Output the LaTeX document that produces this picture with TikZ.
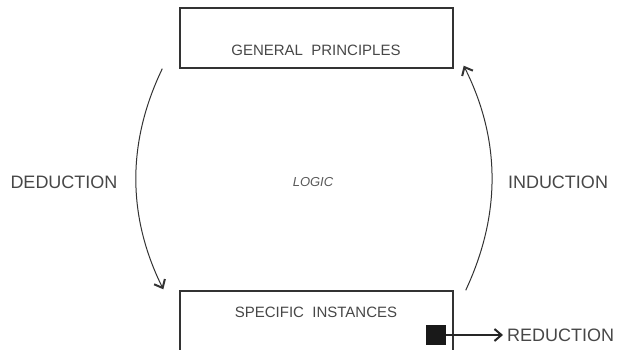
\documentclass[tikz,border=0pt]{standalone}
\usepackage{fontspec}
\setmainfont{Liberation Sans}
\usetikzlibrary{arrows.meta}
\begin{document}
\begin{tikzpicture}[x=1pt,y=-1pt,
  box/.style={draw=black!80, line width=1.4pt, rectangle, minimum width=273pt, inner sep=0pt},
  lbl/.style={text=black!72, inner sep=0pt, font=\fontsize{15}{15}\selectfont},
  side/.style={text=black!72, inner sep=0pt, font=\fontsize{18}{18}\selectfont},
  barb/.style={-{Straight Barb[length=7pt,width=12pt,line width=2pt]}},
  curve/.style={draw=black!80, line width=1pt, barb}]
\useasboundingbox (0,0) rectangle (619,350);

% the two boxes
\node[box, minimum height=60pt] (general) at (316.5,38) {};
\node[lbl] (gentext) at (316,50) {GENERAL\ \ PRINCIPLES};
\node[box, minimum height=66pt] (specific) at (316.5,324) {};
\node[lbl] (spectext) at (316,312) {SPECIFIC\ \ INSTANCES};

% reduction outlet
\node[fill=black!90, minimum size=20pt, inner sep=0pt] (sq) at (436,335) {};
\node[side, anchor=west] (reduction) at (507,335) {REDUCTION};
\draw[draw=black!85, line width=1.1pt, barb, shorten >=4pt] (sq.east) -- (reduction.west);

% side labels
\node[side] (deduction) at (64,182) {DEDUCTION};
\node[side] (induction) at (558,182) {INDUCTION};
\node[text=black!65, inner sep=0pt, font=\fontsize{13}{13}\selectfont\itshape] (logic) at (313,182) {LOGIC};

% deduction: from the general box down to the specific box
\coordinate (dedstart) at ([xshift=-17pt]general.south west);
\coordinate (dedend) at ([xshift=-16pt,yshift=1pt]specific.north west);
\draw[curve] (dedstart) .. controls (127,142) and (127,216) .. (dedend);

% induction: from the specific box up to the general box
\coordinate (indstart) at ([xshift=12pt]specific.north east);
\coordinate (indend) at ([xshift=10pt,yshift=3pt]general.south east);
\draw[curve] (indstart) .. controls (501,215) and (501,140) .. (indend);
\end{tikzpicture}
\end{document}
